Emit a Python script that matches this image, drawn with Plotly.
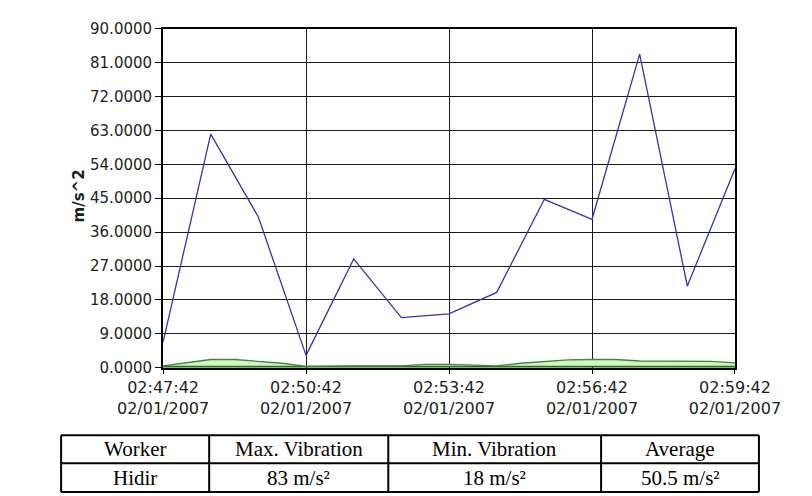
import plotly.graph_objects as go
import pandas as pd

W, H = 812, 496

# ---- data ----
blue_times = pd.date_range("2007-02-01 02:47:42", periods=13, freq="60s")
blue_values = [6.8, 62.0, 40.0, 3.3, 28.9, 13.3, 14.3, 20.0, 44.7, 39.4, 83.2, 21.7, 52.8]

green_times = pd.date_range("2007-02-01 02:47:42", periods=25, freq="30s")
green_values = [0.5, 1.4, 2.2, 2.2, 1.8, 1.2, 0.4, 0.5, 0.5, 0.5, 0.5, 0.9, 0.9,
                0.7, 0.5, 1.2, 1.7, 2.1, 2.2, 2.2, 1.8, 1.8, 1.8, 1.7, 1.3]
base_values = [0.3, 0.3, 0.3, 0.3, 0.3, 0.2, 0.1, 0.2, 0.2, 0.2, 0.2, 0.2, 0.2,
               0.2, 0.2, 0.3, 0.3, 0.3, 0.3, 0.3, 0.3, 0.3, 0.3, 0.3, 0.3]

y_ticks = [0, 9, 18, 27, 36, 45, 54, 63, 72, 81, 90]
x_tick_times = pd.date_range("2007-02-01 02:47:42", periods=5, freq="180s")
x_tick_labels = [t.strftime("%H:%M:%S") + "<br>02/01/2007" for t in x_tick_times]

table_header = ["Worker", "Max. Vibration", "Min. Vibration", "Average"]
table_row = ["Hidir", "83 m/s²", "18 m/s²", "50.5 m/s²"]

# ---- layout geometry (pixels) ----
plot_left, plot_right, plot_top, plot_bottom = 123, 768, 12, 364
col_edges = [8, 175, 377, 617, 795]
row_edges = [434, 463, 493]

def px(x):
    return x / W

def py(y):
    return 1 - y / H

fig = go.Figure()
fig.add_trace(go.Scatter(x=green_times, y=base_values, mode="lines",
                         line=dict(color="#2f6f1f", width=2), showlegend=False))
fig.add_trace(go.Scatter(x=green_times, y=green_values, mode="lines",
                         line=dict(color="#3a8a3a", width=1.3), fill="tonexty",
                         fillcolor="#d3f5c2", showlegend=False))
fig.add_trace(go.Scatter(x=blue_times, y=blue_values, mode="lines",
                         line=dict(color="#3434b0", width=1.3), showlegend=False))

fig.update_layout(
    width=W, height=H,
    margin=dict(l=0, r=0, t=0, b=0),
    paper_bgcolor="white", plot_bgcolor="white",
    font=dict(family="DejaVu Sans", size=15, color="#1e1e1e"),
    xaxis=dict(
        domain=[px(plot_left), px(plot_right)],
        range=[x_tick_times[0], x_tick_times[-1]],
        tickvals=list(x_tick_times), ticktext=x_tick_labels,
        tickfont=dict(size=16), ticklabeloverflow="allow",
        showgrid=True, gridcolor="#1a1a1a", gridwidth=1,
        showline=True, linecolor="black", linewidth=2, mirror=True,
        ticks="outside", ticklen=4, tickcolor="black",
        zeroline=False, fixedrange=True,
    ),
    yaxis=dict(
        domain=[py(plot_bottom), py(plot_top)],
        range=[0, 90],
        tickvals=y_ticks, tickformat=".4f",
        showgrid=True, gridcolor="#1a1a1a", gridwidth=1,
        showline=True, linecolor="black", linewidth=2, mirror=True,
        ticks="outside", ticklen=6, tickcolor="black",
        zeroline=False,
    ),
)

# y axis title
fig.add_annotation(text="<b>m/s^2</b>", x=px(16), y=py(186), xref="paper", yref="paper",
                   textangle=-90, showarrow=False,
                   font=dict(family="DejaVu Sans", size=15, color="#1e1e1e"))

# table grid
shapes = []
for xe in col_edges:
    shapes.append(dict(type="line", xref="paper", yref="paper",
                       x0=px(xe), x1=px(xe), y0=py(row_edges[0]), y1=py(row_edges[-1]),
                       line=dict(color="black", width=2)))
for ye in row_edges:
    shapes.append(dict(type="line", xref="paper", yref="paper",
                       x0=px(col_edges[0]), x1=px(col_edges[-1]), y0=py(ye), y1=py(ye),
                       line=dict(color="black", width=2)))
fig.update_layout(shapes=shapes)

for r, row in enumerate([table_header, table_row]):
    yc = (row_edges[r] + row_edges[r + 1]) / 2
    for c, txt in enumerate(row):
        xc = (col_edges[c] + col_edges[c + 1]) / 2
        fig.add_annotation(text=txt, x=px(xc), y=py(yc), xref="paper", yref="paper",
                           xanchor="center", yanchor="middle", showarrow=False,
                           font=dict(family="Liberation Serif", size=21, color="black"))

fig.write_html("out.html")
